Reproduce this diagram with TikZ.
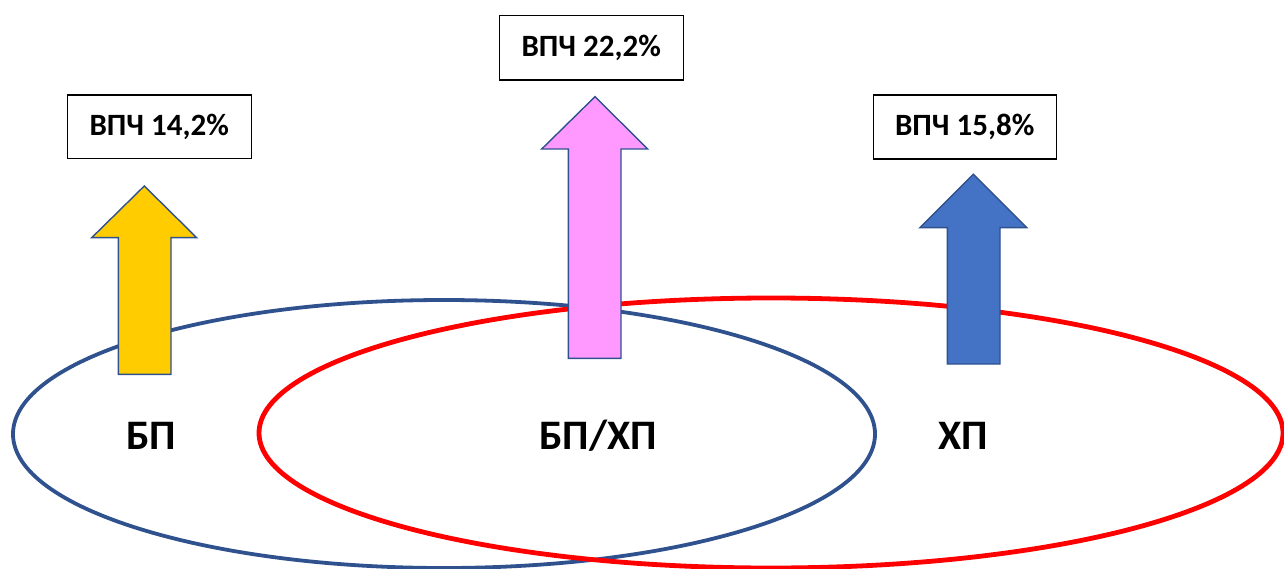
\documentclass[tikz,border=0pt]{standalone}
\usepackage{fontspec}
\setmainfont{Carlito}
\usetikzlibrary{shapes.geometric}
\definecolor{setblue}{HTML}{2F528F}
\definecolor{setred}{HTML}{FF0000}
\definecolor{arryellow}{HTML}{FFCC00}
\definecolor{arrpink}{HTML}{FF99FF}
\definecolor{arrblue}{HTML}{4472C4}
\tikzset{
  setline/.style={draw, ellipse, inner sep=0pt, fill=none},
  valbox/.style={draw=black, line width=1.1pt, fill=white, inner sep=0pt,
    font=\fontsize{31}{34}\selectfont\bfseries},
  setlabel/.style={font=\fontsize{42}{46}\selectfont\bfseries, inner sep=0pt},
  uparrow/.style={draw=setblue, line width=1.4pt, line join=miter},
}
\begin{document}
\begin{tikzpicture}[x=1pt,y=-1pt]
\useasboundingbox (0,0) rectangle (1284,569);
% the two overlapping sets
\node[setline, draw=setblue, line width=3.8pt, minimum width=862pt, minimum height=268pt] (bp) at (444,434) {};
\node[setline, draw=setred, line width=4.8pt, minimum width=1024pt, minimum height=270pt] (hp) at (771,433) {};
% set labels
\node[setlabel] (lbp) at (151,436) {БП};
\node[setlabel] (lbphp) at (598,436) {БП/ХП};
\node[setlabel] (lhp) at (963,436) {ХП};
% block arrows
\filldraw[uparrow, fill=arryellow] (118.3,374.3) -- (118.3,237.7) -- (91.7,237.7) -- (144.3,186) -- (196.7,237.7) -- (171,237.7) -- (171,374.3) -- cycle;
\filldraw[uparrow, fill=arrpink] (568.3,358.3) -- (568.3,149) -- (541.7,149) -- (595,96.7) -- (647.7,149) -- (621,149) -- (621,358.3) -- cycle;
\filldraw[uparrow, fill=arrblue] (947.3,364) -- (947.3,227.7) -- (920,227.7) -- (973.3,174.3) -- (1026.7,227.7) -- (1000,227.7) -- (1000,364) -- cycle;
% value boxes
\node[valbox, minimum width=183.7pt, minimum height=63.3pt] (v1) at (159.2,126.7) {ВПЧ 14,2\%};
\node[valbox, minimum width=184.3pt, minimum height=64.3pt] (v2) at (591.2,47.9) {ВПЧ 22,2\%};
\node[valbox, minimum width=182.7pt, minimum height=64pt] (v3) at (964.7,127) {ВПЧ 15,8\%};
\end{tikzpicture}
\end{document}
